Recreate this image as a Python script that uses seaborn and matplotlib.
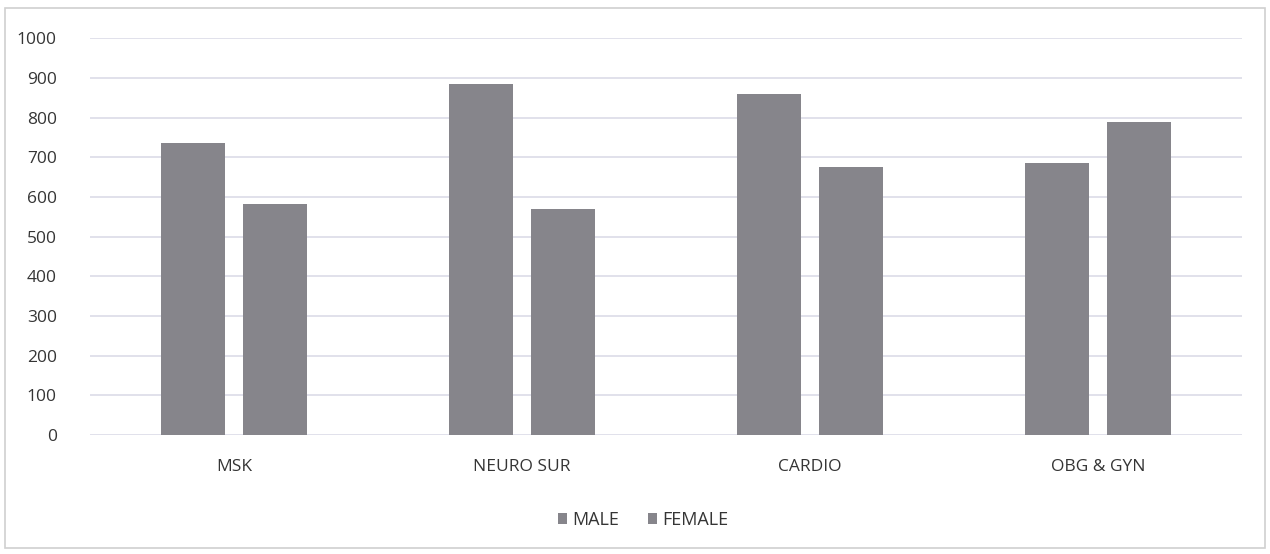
import pandas as pd
import numpy as np
import matplotlib.pyplot as plt
import seaborn as sns
from matplotlib.patches import Rectangle

# --- DATA ---
kategoriler = ["MSK", "NEURO SUR", "CARDIO", "OBG & GYN"]
erkek = [735, 884, 859, 685]
kadin = [582, 569, 675, 788]
cinsiyetler = ["MALE", "FEMALE"]
y_ticks = [0, 100, 200, 300, 400, 500, 600, 700, 800, 900, 1000]

df = pd.DataFrame({
    "Bolum": kategoriler * 2,
    "Cinsiyet": ["MALE"] * 4 + ["FEMALE"] * 4,
    "Deger": erkek + kadin,
})

sns.set_style("white")
plt.rcParams['font.family'] = ['Open Sans', 'DejaVu Sans']

BAR_RENK = "#86858b"
YAZI_RENK = "#353535"
fig = plt.figure(figsize=(12.7, 5.54), dpi=100)
ax = fig.add_axes([0.071, 0.215, 0.907, 0.716])

sns.barplot(data=df, x="Bolum", y="Deger", hue="Cinsiyet", order=kategoriler,
            hue_order=cinsiyetler, palette=[BAR_RENK, BAR_RENK], width=0.57,
            gap=0.22, ax=ax, saturation=1, legend=True, linewidth=0)

ax.set_ylim(0, 1000)
ax.set_yticks(y_ticks)
ax.set_xlim(-0.5, 3.5)
ax.yaxis.grid(True, color="#dcdbe8", linewidth=1.2)
ax.set_axisbelow(True)
for s in ax.spines.values():
    s.set_visible(False)
ax.set_xlabel("")
ax.set_ylabel("")
ax.tick_params(axis="both", length=0, labelsize=12.5, colors=YAZI_RENK)
ax.tick_params(axis="x", pad=17)
ax.tick_params(axis="y", pad=24)

handles, labels = ax.get_legend_handles_labels()
ax.legend(handles, labels, loc="center", bbox_to_anchor=(0.48, -0.214), ncol=2,
          frameon=False, fontsize=13, handlelength=0.5, handleheight=0.5,
          handletextpad=0.3, columnspacing=1.6, labelcolor=YAZI_RENK)

# cerceve
fig.patches.append(Rectangle((0.004, 0.01), 0.992, 0.975, transform=fig.transFigure,
                             fill=False, edgecolor="#d0d0d0", linewidth=1.2))

plt.savefig("out.png", dpi=100)
plt.close()
